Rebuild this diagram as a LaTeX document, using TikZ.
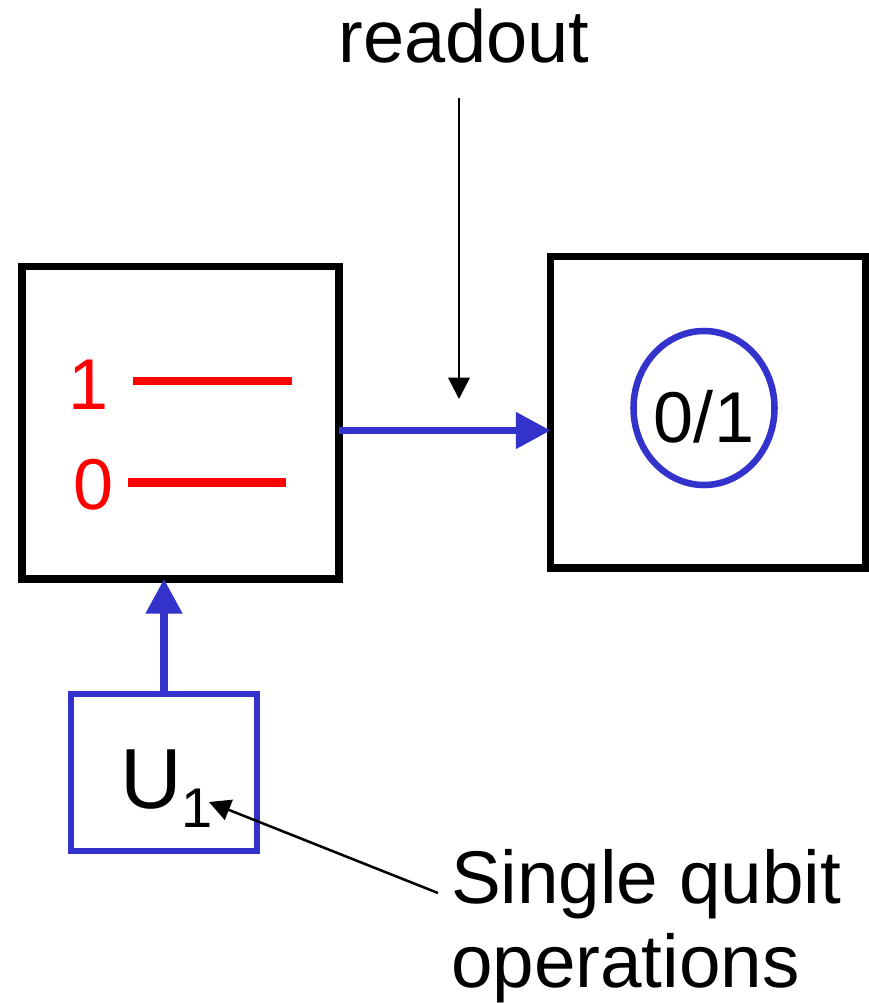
\documentclass[tikz,border=0pt]{standalone}
\usepackage{fontspec}
\setmainfont{Liberation Sans}
\usetikzlibrary{arrows.meta,shapes.geometric}
\definecolor{qblue}{RGB}{51,51,204}
\definecolor{qred}{RGB}{255,0,0}
\tikzset{
  bigbox/.style={draw=black,line width=5.6pt,rectangle,outer sep=0pt,inner sep=0pt},
  opbox/.style={draw=qblue,line width=4.2pt,rectangle,outer sep=0pt,inner sep=0pt},
  meas/.style={draw=qblue,line width=4.9pt,ellipse,outer sep=0pt,inner sep=0pt},
  level/.style={draw=qred,line width=6.5pt},
  bluearrow/.style={draw=qblue,line width=5.3pt,-{Triangle[length=26pt,width=26.5pt]}},
  thinarrow/.style={draw=black,line width=1.9pt,-{Triangle[length=16pt,width=16pt]}},
  txt/.style={inner sep=0pt,outer sep=0pt},
}
\begin{document}
\begin{tikzpicture}[x=0.75pt,y=-0.75pt]
\useasboundingbox (0,0) rectangle (868,1003);
% boxes
\node[bigbox,minimum width=237.75pt,minimum height=234.4pt] (qb) at (180.5,422.75) {};
\node[bigbox,minimum width=236.25pt,minimum height=233.6pt] (rd) at (708,412.25) {};
\node[opbox,minimum width=139.5pt,minimum height=117.75pt] (U) at (164,772.5) {};
\node[meas,minimum width=105.75pt,minimum height=115.5pt] (circ) at (704,408) {};
% texts
\node[txt,anchor=base,font=\fontsize{55.5}{60}\selectfont] (readout) at (464,62) {readout};
\node[txt,anchor=base,text=qred,font=\fontsize{54}{60}\selectfont] (one) at (89,409) {1};
\node[txt,anchor=base,text=qred,font=\fontsize{54}{60}\selectfont] (zero) at (93.5,509) {0};
\node[txt,anchor=base,font=\fontsize{54}{60}\selectfont] (res) at (704,442) {0/1};
\node[txt,anchor=base west,font=\fontsize{64}{70}\selectfont] (Ulab) at (120,808) {U\raisebox{-14.25pt}{\fontsize{42}{42}\selectfont 1}};
\node[txt,anchor=base west,align=left,font=\fontsize{56}{63}\selectfont] (sq) at (451,987) {Single qubit\\operations};
% energy levels
\draw[level] (133,381) -- (292,381);
\draw[level] (128,482.5) -- (286,482.5);
% connectors
\draw[bluearrow] ([yshift=-5.8pt]qb.east) -- ([yshift=-5.8pt]qb.east -| rd.west);
\draw[bluearrow] (U.north) -- (U.north |- qb.south);
\coordinate (rstart) at (459,98);
\coordinate (rtip) at (459,399);
\draw[thinarrow] (rstart) -- (rtip);
\coordinate (sqstart) at (438,893);
\coordinate (sqtip) at (209,802);
\draw[thinarrow] (sqstart) -- (sqtip);
\end{tikzpicture}
\end{document}
